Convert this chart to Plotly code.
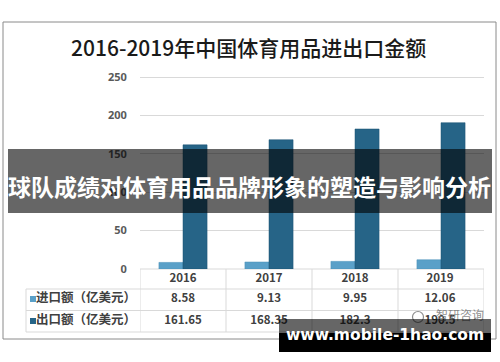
import plotly.graph_objects as go

years = ["2016", "2017", "2018", "2019"]
imports = [8.58, 9.13, 9.95, 12.06]
exports = [161.65, 168.35, 182.3, 190.5]
import_labels = ["8.58", "9.13", "9.95", "12.06"]
export_labels = ["161.65", "168.35", "182.3", "190.5"]
series_names = ["进口额（亿美元）", "出口额（亿美元）"]
y_ticks = [0, 50, 100, 150, 200, 250]
title_text = "2016-2019年中国体育用品进出口金额"
banner_text = "球队成绩对体育用品品牌形象的塑造与影响分析"
site_text = "www.mobile-1hao.com"
watermark_text = "智研咨询"

W, H = 500, 362
IMP_COLOR = "#5aa0c8"
EXP_COLOR = "#266487"
GRID = "#d9d9d9"
TXT = "#404040"
CJK = "Noto Sans CJK SC"


def py(y):
    return 1 - y / H


# y axis: 0 at 269px, 250 at 77px
PX_PER_UNIT = (269 - 77) / 250
TOP_PX = 72
Y_TOP = (269 - TOP_PX) / PX_PER_UNIT

fig = go.Figure()

fig.add_trace(go.Bar(x=years, y=imports, name=series_names[0],
                     marker=dict(color=IMP_COLOR, line=dict(width=0.5, color="#4a90b8")),
                     xaxis="x", yaxis="y", showlegend=False))
fig.add_trace(go.Bar(x=years, y=exports, name=series_names[1],
                     marker=dict(color=EXP_COLOR, line=dict(width=0.5, color="#1b5273")),
                     xaxis="x", yaxis="y", showlegend=False))

# table text in pixel-space overlay axes (so that overlay bands cover it)
col_x = [183, 269, 355, 440]
row_y = [299, 321]
fig.add_trace(go.Scatter(
    x=col_x * 2, y=[row_y[0]] * 4 + [row_y[1]] * 4,
    text=import_labels + export_labels,
    mode="text", textfont=dict(family=CJK, size=11.5, color=TXT, weight="bold"),
    xaxis="x2", yaxis="y2", showlegend=False, hoverinfo="skip"))
fig.add_trace(go.Scatter(
    x=col_x, y=[279] * 4, text=years, mode="text",
    textfont=dict(family=CJK, size=11.5, color=TXT, weight="bold"),
    xaxis="x2", yaxis="y2", showlegend=False, hoverinfo="skip"))
fig.add_trace(go.Scatter(
    x=[36, 36], y=row_y, text=series_names, mode="text", textposition="middle right",
    textfont=dict(family=CJK, size=12.5, color=TXT, weight="bold"),
    xaxis="x2", yaxis="y2", showlegend=False, hoverinfo="skip"))
# watermark
fig.add_trace(go.Scatter(
    x=[418], y=[317], mode="markers",
    marker=dict(size=11, color="rgba(255,255,255,0.9)", line=dict(width=1.2, color="rgba(120,120,120,0.85)")),
    xaxis="x2", yaxis="y2", showlegend=False, hoverinfo="skip"))
fig.add_trace(go.Scatter(
    x=[436], y=[317], text=[watermark_text], mode="text", textposition="middle right",
    textfont=dict(family=CJK, size=12, color="rgba(120,120,120,0.85)"),
    xaxis="x2", yaxis="y2", showlegend=False, hoverinfo="skip"))

shapes = []
# outer border
shapes.append(dict(type="rect", xref="paper", yref="paper", x0=3 / W, x1=496 / W, y0=py(22), y1=py(339),
                   line=dict(color="#8a8a8a", width=1), layer="below"))
# table grid
for xv in [-0.5, 0.5, 1.5, 2.5, 3.5]:
    shapes.append(dict(type="line", xref="x", yref="paper", x0=xv, x1=xv, y0=py(269), y1=py(332),
                       line=dict(color=GRID, width=1), layer="below"))
shapes.append(dict(type="line", xref="paper", yref="paper", x0=26 / W, x1=26 / W, y0=py(289), y1=py(332),
                   line=dict(color=GRID, width=1), layer="below"))
for yv in [289, 310.5, 332]:
    shapes.append(dict(type="line", xref="paper", yref="paper", x0=26 / W, x1=484 / W, y0=py(yv), y1=py(yv),
                       line=dict(color=GRID, width=1), layer="below"))
shapes.append(dict(type="line", xref="x", yref="paper", x0=-0.5, x1=3.5, y0=py(269), y1=py(269),
                   line=dict(color=GRID, width=1), layer="below"))
# legend keys
for yy, c in zip(row_y, [IMP_COLOR, EXP_COLOR]):
    shapes.append(dict(type="rect", xref="paper", yref="paper", x0=30 / W, x1=36 / W,
                       y0=py(yy + 3), y1=py(yy - 3), fillcolor=c, line=dict(width=0), layer="below"))
# overlay banner
shapes.append(dict(type="rect", xref="paper", yref="paper", x0=8 / W, x1=492 / W, y0=py(213), y1=py(149),
                   fillcolor="rgba(0,0,0,0.6)", line=dict(width=0), layer="above"))
# bottom site banner
shapes.append(dict(type="rect", xref="paper", yref="paper", x0=279 / W, x1=491 / W, y0=py(333), y1=py(319),
                   fillcolor="rgba(0,0,0,0.6)", line=dict(width=0), layer="above"))
shapes.append(dict(type="rect", xref="paper", yref="paper", x0=279 / W, x1=491 / W, y0=py(352), y1=py(333),
                   fillcolor="#000000", line=dict(width=0), layer="above"))

annotations = [
    dict(text=title_text, x=248 / W, y=py(47), xref="paper", yref="paper", showarrow=False,
         xanchor="center", yanchor="middle",
         font=dict(family=CJK, size=21, color="#1a1a1a", weight=500)),
    dict(text=banner_text, x=249 / W, y=py(186), xref="paper", yref="paper", showarrow=False,
         xanchor="center", yanchor="middle",
         font=dict(family=CJK, size=23, color="#ffffff", weight="bold")),
    dict(text=site_text, x=385 / W, y=py(335), xref="paper", yref="paper", showarrow=False,
         xanchor="center", yanchor="middle",
         font=dict(family="DejaVu Sans", size=15.5, color="#ffffff", weight="bold")),
]

fig.update_layout(
    width=W, height=H,
    margin=dict(l=0, r=0, t=0, b=0, autoexpand=False),
    paper_bgcolor="white", plot_bgcolor="rgba(0,0,0,0)",
    barmode="group", bargap=0.44, bargroupgap=0,
    xaxis=dict(domain=[140 / W, 484 / W], type="category", range=[-0.5, 3.5], automargin=False,
               showticklabels=False, showgrid=False, zeroline=False, showline=False, ticks=""),
    yaxis=dict(domain=[py(269), py(TOP_PX)], range=[0, Y_TOP], tickvals=y_ticks, automargin=False,
               showgrid=True, gridcolor=GRID, gridwidth=1, zeroline=False, showline=False,
               tickfont=dict(family="Noto Sans", size=11, color="#595959", weight="bold"),
               ticks="outside", ticklen=10, tickcolor="rgba(0,0,0,0)"),
    xaxis2=dict(domain=[0, 1], range=[0, W], visible=False, anchor="y2", fixedrange=True, automargin=False),
    yaxis2=dict(domain=[0, 1], range=[H, 0], visible=False, anchor="x2", fixedrange=True, automargin=False),
    shapes=shapes, annotations=annotations,
)

fig.write_html("out.html", config={"displayModeBar": False},
               post_script="document.body.style.margin='0';")
